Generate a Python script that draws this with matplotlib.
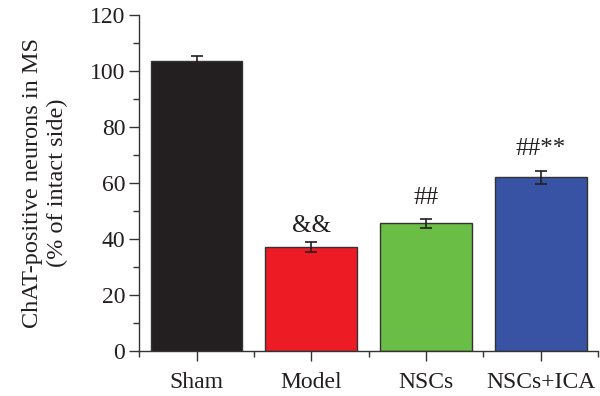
import matplotlib
matplotlib.use("Agg")
import matplotlib.pyplot as plt
from matplotlib.ticker import MultipleLocator, FixedLocator

categories = ["Sham", "Model", "NSCs", "NSCs+ICA"]
values = [103.5, 37.3, 45.6, 62.0]
errors = [2.0, 1.8, 1.7, 2.2]
colors = ["#231f20", "#ed1c24", "#6abd45", "#3953a4"]
annotations = ["", "&&", "##", "##**"]
annot_y = [None, 44.5, 54.6, 72.0]

plt.rcParams['font.family'] = ['Liberation Serif', 'DejaVu Serif']

fig = plt.figure(figsize=(6.0, 3.96), dpi=100)
ax = fig.add_axes([0.232, 0.1136, 0.765, 0.8485])

x = list(range(len(categories)))
ax.bar(x, values, width=0.8, color=colors, edgecolor="#333333", linewidth=1.0,
       yerr=errors, capsize=4, error_kw=dict(ecolor="#231f20", elinewidth=1.2, capthick=1.2))

for xi, txt, ty in zip(x, annotations, annot_y):
    if txt:
        ax.text(xi, ty, txt, ha="center", va="center", fontsize=18, color="#231f20")

ax.set_xlim(-0.5, 3.5)
ax.set_ylim(0, 120)
ax.set_xticks(x)
ax.set_xticklabels(categories)
ax.xaxis.set_minor_locator(FixedLocator([-0.5, 0.5, 1.5, 2.5, 3.5]))
ax.yaxis.set_major_locator(MultipleLocator(20))
ax.yaxis.set_minor_locator(MultipleLocator(10))

for s in ["top", "right"]:
    ax.spines[s].set_visible(False)
for s in ["left", "bottom"]:
    ax.spines[s].set_color("#333333")
    ax.spines[s].set_linewidth(1.0)

ax.tick_params(axis="both", which="major", length=7, width=1.0, color="#333333",
               labelsize=17, labelcolor="#231f20")
ax.tick_params(axis="both", which="minor", length=4, width=1.0, color="#333333")
ax.tick_params(axis="x", which="major", pad=8)
ax.tick_params(axis="y", which="major", pad=3)

ax.set_ylabel("ChAT-positive neurons in MS\n(% of intact side)", fontsize=17.5,
              color="#231f20", linespacing=1.2, labelpad=16)

fig.savefig("out.png", dpi=100)
